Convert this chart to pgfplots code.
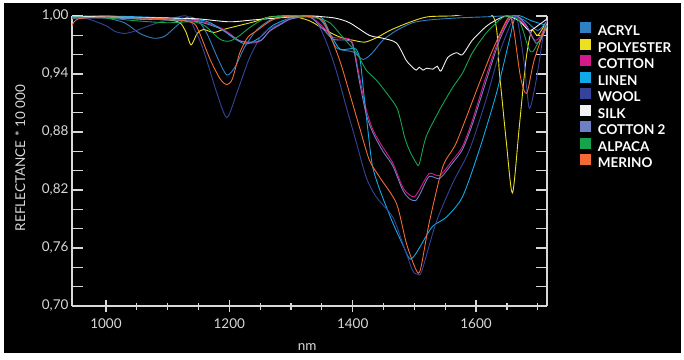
\documentclass[border=0pt]{standalone}
\usepackage{pgfplots}
\pgfplotsset{compat=1.18}
\usepackage{fontspec}
\setmainfont{Lato}
\definecolor{cAcryl}{HTML}{2F80C2}
\definecolor{cPoly}{HTML}{ECE020}
\definecolor{cCotton}{HTML}{D4198A}
\definecolor{cLinen}{HTML}{10A8E6}
\definecolor{cWool}{HTML}{35449A}
\definecolor{cSilk}{HTML}{F2F2F2}
\definecolor{cCotton2}{HTML}{6E80C4}
\definecolor{cAlpaca}{HTML}{16A34D}
\definecolor{cMerino}{HTML}{F26A36}
\definecolor{axgray}{HTML}{D8D8D8}
\newcommand{\lblfont}{\fontsize{13.5}{15}\selectfont}
\begin{document}
\begin{tikzpicture}[x=1pt,y=1pt]
\path[use as bounding box] (0,0) rectangle (684,359);
\fill[white] (0,0) rectangle (684,359);
\fill[black] (4,6) rectangle (681,356);
% y axes (left and right)
\begin{axis}[
  at={(72pt,53pt)}, anchor=south west,
  scale only axis, width=475pt, height=290pt,
  xmin=945, xmax=1715, ymin=0.70, ymax=1.00,
  axis x line=none, axis y line=box,
  axis line style={draw=axgray, line width=1.3pt, -},
  ytick={0.70,0.76,0.82,0.88,0.94,1.00},
  minor ytick={0.72,0.74,0.78,0.80,0.84,0.86,0.90,0.92,0.96,0.98},
  ytick pos=both, yticklabel pos=left,
  tick align=inside,
  major tick length=11pt, minor tick length=11pt,
  tick style={draw=axgray, line width=1.2pt},
  /pgf/number format/assume math mode=true,
  yticklabel style={font=\lblfont, text=axgray, /pgf/number format/.cd, fixed, fixed zerofill, precision=2, use comma},
  ylabel={REFLECTANCE * 10 000},
  ylabel style={at={(axis description cs:-0.1095,0.51)}, anchor=center, font=\lblfont, text=axgray},
]
\addplot[draw=none, forget plot] coordinates {(1000,0.9)};
\end{axis}
% x axis and data
\begin{axis}[
  at={(72pt,53pt)}, anchor=south west,
  scale only axis, width=475pt, height=290pt,
  xmin=945, xmax=1715, ymin=0.70, ymax=1.00,
  axis x line=bottom, axis y line=none,
  axis line style={draw=axgray, line width=1.3pt, -},
  xtick={1000,1200,1400,1600},
  minor xtick={1050,1100,1150,1250,1300,1350,1450,1500,1550,1650,1700},
  tick align=center,
  major tick length=12pt, minor tick length=7pt,
  tick style={draw=axgray, line width=1.2pt},
  /pgf/number format/assume math mode=true,
  /pgf/number format/1000 sep={},
  xticklabel style={font=\lblfont, text=axgray, anchor=base, yshift=-16pt},
  xlabel={nm},
  xlabel style={at={(axis description cs:0.495,-0.152)}, anchor=base, font=\lblfont, text=axgray},
  legend style={at={(1.0695,0.979)}, anchor=north west, draw=none, fill=none,
    inner sep=0pt, outer sep=0pt, row sep=0pt, column sep=7pt,
    font=\lblfont\bfseries, text=white,
    nodes={inner sep=0pt, text height=10pt, text depth=2.7pt}},
  legend cell align=left,
  legend image code/.code={\fill[#1] (0pt,-0.3pt) rectangle (10pt,9.7pt);},
  every axis plot/.append style={line width=0.9pt, smooth, tension=0.45},
]
\addplot[cAcryl] coordinates {
(945,0.997)(970,1.0)(1000,0.998)(1030,0.993)(1055,0.982)(1077,0.977)(1095,0.979)(1115,0.99)(1133,0.999)(1150,0.995)(1165,0.98)(1180,0.958)(1196,0.939)(1210,0.948)(1225,0.968)(1245,0.986)(1270,0.997)(1300,1.0)(1340,0.999)(1355,0.99)(1374,0.967)(1400,0.963)(1417,0.955)(1432,0.962)(1449,0.975)(1471,0.985)(1497,0.993)(1525,0.996)(1570,0.998)(1610,0.999)(1660,1.0)(1680,0.995)(1700,0.985)(1715,0.995)};
\addlegendentry{ACRYL}
\addplot[cPoly] coordinates {
(945,0.998)(1000,1.0)(1050,0.997)(1100,0.996)(1120,0.993)(1130,0.983)(1138,0.97)(1148,0.982)(1158,0.986)(1175,0.983)(1190,0.986)(1215,0.99)(1240,0.994)(1265,0.999)(1300,1.0)(1330,0.995)(1357,0.985)(1380,0.978)(1400,0.975)(1420,0.973)(1440,0.978)(1460,0.985)(1490,0.993)(1520,0.999)(1560,1.0)(1627,1.0)(1638,0.94)(1649,0.87)(1659,0.817)(1670,0.885)(1681,0.955)(1690,0.985)(1700,0.98)(1715,0.995)};
\addlegendentry{POLYESTER}
\addplot[cCotton] coordinates {
(945,0.998)(1000,0.999)(1100,0.997)(1150,0.995)(1185,0.988)(1200,0.982)(1215,0.975)(1235,0.972)(1250,0.974)(1265,0.984)(1280,0.99)(1300,0.997)(1330,0.999)(1350,0.99)(1368,0.978)(1390,0.977)(1400,0.972)(1411,0.937)(1422,0.903)(1433,0.882)(1449,0.864)(1465,0.848)(1481,0.823)(1492,0.815)(1500,0.813)(1508,0.82)(1524,0.837)(1541,0.835)(1562,0.851)(1578,0.865)(1594,0.892)(1616,0.937)(1638,0.978)(1654,0.998)(1665,1.0)(1680,0.99)(1695,0.975)(1705,0.98)(1715,0.995)};
\addlegendentry{COTTON}
\addplot[cLinen] coordinates {
(945,0.999)(1000,1.0)(1100,0.998)(1160,0.995)(1190,0.985)(1210,0.976)(1228,0.971)(1250,0.978)(1270,0.99)(1300,0.998)(1340,1.0)(1352,0.997)(1365,0.98)(1379,0.966)(1395,0.966)(1405,0.966)(1412,0.955)(1418,0.92)(1425,0.88)(1432,0.845)(1444,0.82)(1465,0.786)(1480,0.765)(1492,0.749)(1500,0.752)(1508,0.76)(1529,0.782)(1552,0.792)(1578,0.813)(1605,0.861)(1633,0.92)(1654,0.975)(1665,1.0)(1690,0.995)(1715,0.99)};
\addlegendentry{LINEN}
\addplot[cWool] coordinates {
(945,0.998)(970,0.997)(1000,0.99)(1015,0.984)(1030,0.982)(1045,0.984)(1070,0.99)(1100,0.996)(1131,1.0)(1144,0.986)(1158,0.965)(1180,0.92)(1196,0.895)(1212,0.92)(1233,0.957)(1255,0.982)(1282,0.992)(1303,0.999)(1330,1.0)(1345,0.99)(1358,0.972)(1374,0.942)(1390,0.905)(1406,0.869)(1422,0.833)(1438,0.813)(1465,0.792)(1481,0.765)(1497,0.737)(1505,0.733)(1512,0.736)(1535,0.786)(1562,0.827)(1589,0.861)(1616,0.913)(1638,0.962)(1659,0.996)(1665,1.0)(1670,0.986)(1678,0.951)(1686,0.905)(1694,0.922)(1702,0.951)(1710,0.985)(1715,0.995)};
\addlegendentry{WOOL}
\addplot[cSilk] coordinates {
(945,1.0)(1000,0.999)(1100,0.998)(1150,0.997)(1200,0.994)(1240,0.996)(1300,0.999)(1330,1.0)(1370,0.998)(1395,0.993)(1427,0.98)(1449,0.977)(1471,0.972)(1487,0.954)(1497,0.947)(1503,0.944)(1508,0.947)(1514,0.944)(1520,0.946)(1530,0.945)(1537,0.948)(1543,0.943)(1554,0.957)(1568,0.962)(1578,0.96)(1594,0.975)(1616,0.989)(1633,0.996)(1650,1.0)(1670,0.995)(1686,0.985)(1700,0.99)(1715,0.997)};
\addlegendentry{SILK}
\addplot[cCotton2] coordinates {
(945,0.998)(1000,0.998)(1100,0.996)(1150,0.994)(1185,0.987)(1200,0.981)(1218,0.974)(1238,0.973)(1252,0.975)(1266,0.985)(1282,0.991)(1300,0.997)(1330,0.999)(1350,0.988)(1368,0.976)(1390,0.975)(1400,0.97)(1411,0.932)(1422,0.898)(1433,0.879)(1449,0.86)(1465,0.845)(1481,0.82)(1492,0.811)(1502,0.809)(1510,0.817)(1524,0.834)(1541,0.832)(1562,0.848)(1578,0.862)(1594,0.888)(1616,0.932)(1638,0.975)(1656,0.998)(1667,1.0)(1682,0.99)(1697,0.972)(1707,0.978)(1715,0.99)};
\addlegendentry{COTTON 2}
\addplot[cAlpaca] coordinates {
(945,0.999)(1000,0.998)(1050,0.995)(1100,0.993)(1140,0.994)(1160,0.99)(1185,0.976)(1200,0.974)(1215,0.979)(1233,0.988)(1260,0.998)(1300,1.0)(1340,0.998)(1363,0.993)(1384,0.978)(1406,0.962)(1422,0.944)(1438,0.934)(1460,0.916)(1473,0.903)(1484,0.875)(1492,0.861)(1503,0.848)(1508,0.847)(1519,0.875)(1541,0.903)(1562,0.926)(1578,0.941)(1594,0.962)(1616,0.982)(1638,0.996)(1650,1.0)(1670,0.995)(1685,0.967)(1692,0.963)(1705,0.978)(1715,0.99)};
\addlegendentry{ALPACA}
\addplot[cMerino] coordinates {
(945,0.99)(955,0.997)(1000,0.999)(1100,0.997)(1140,0.993)(1150,0.985)(1169,0.955)(1185,0.935)(1196,0.929)(1205,0.935)(1217,0.962)(1230,0.978)(1245,0.985)(1270,0.996)(1300,1.0)(1345,0.998)(1360,0.985)(1379,0.954)(1395,0.92)(1411,0.885)(1427,0.851)(1444,0.833)(1471,0.806)(1487,0.765)(1503,0.737)(1510,0.738)(1524,0.786)(1546,0.844)(1568,0.869)(1605,0.93)(1627,0.965)(1652,0.998)(1660,0.99)(1672,0.937)(1682,0.92)(1694,0.954)(1713,0.99)};
\addlegendentry{MERINO}
\end{axis}
\end{tikzpicture}
\end{document}
